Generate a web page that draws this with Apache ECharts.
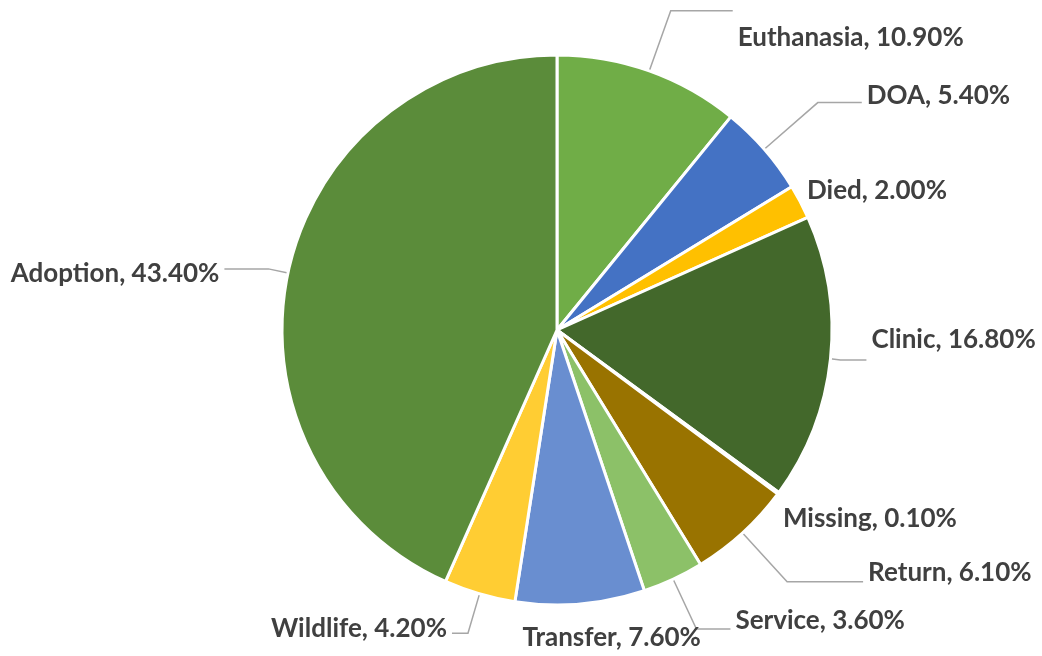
<!DOCTYPE html>
<html>
<head>
<meta charset="utf-8">
<script src="https://cdn.jsdelivr.net/npm/echarts@6/dist/echarts.min.js"></script>
<style>
html,body{margin:0;padding:0;background:#fff;}
#chart{width:1042px;height:656px;}
</style>
</head>
<body>
<div id="chart"></div>
<script>
// Data
const categories = ['Euthanasia', 'DOA', 'Died', 'Clinic', 'Missing', 'Return', 'Service', 'Transfer', 'Wildlife', 'Adoption'];
const percentValues = [10.9, 5.4, 2.0, 16.8, 0.1, 6.1, 3.6, 7.6, 4.2, 43.4];

// Styles (colors, label line lengths, label nudges)
const sliceColors = ['#70AD47', '#4472C4', '#FFC000', '#43682B', '#264478', '#997300', '#8CC168', '#698ED0', '#FFCD33', '#5B8C3A'];
const labelStyles = [
  { len: 64, len2: 62, dy: 27, line: true },   // Euthanasia
  { len: 71, len2: 44, dy: -7, line: true },   // DOA
  { len: 2, len2: 0, dy: -10, line: false },   // Died
  { len: 10, len2: 26, dy: -20, line: true },  // Clinic
  { len: 2, len2: -2, dy: 24, line: false },   // Missing
  { len: 66, len2: 76, dy: -9, line: true },   // Return
  { len: 55, len2: 34, dy: -8, line: true },   // Service
  { len: 14, len2: -64, dy: 20, line: false }, // Transfer
  { len: 41, len2: 16, dy: -5, line: true },   // Wildlife
  { len: 20, len2: 44, dy: 5, line: true }     // Adoption
];

const seriesData = categories.map((name, i) => ({
  name: name,
  value: percentValues[i],
  itemStyle: { color: sliceColors[i] },
  labelLine: { show: labelStyles[i].line, length: labelStyles[i].len, length2: labelStyles[i].len2 }
}));

const chart = echarts.init(document.getElementById('chart'), null, { renderer: 'canvas' });
chart.setOption({
  backgroundColor: '#ffffff',
  animation: false,
  series: [{
    type: 'pie',
    center: [557, 330],
    radius: 275,
    startAngle: 90,
    clockwise: true,
    avoidLabelOverlap: false,
    itemStyle: { borderColor: '#ffffff', borderWidth: 3 },
    label: {
      show: true,
      position: 'outside',
      formatter: p => p.name + ', ' + p.value.toFixed(2) + '%',
      fontFamily: 'Lato',
      fontWeight: 'bold',
      fontSize: 26,
      color: '#404040',
      overflow: 'none',
      distanceToLabelLine: 5
    },
    labelLine: {
      lineStyle: { color: '#A6A6A6', width: 1.5 },
      smooth: false
    },
    labelLayout: params => ({ dy: labelStyles[params.dataIndex].dy }),
    data: seriesData
  }]
});
</script>
</body>
</html>
